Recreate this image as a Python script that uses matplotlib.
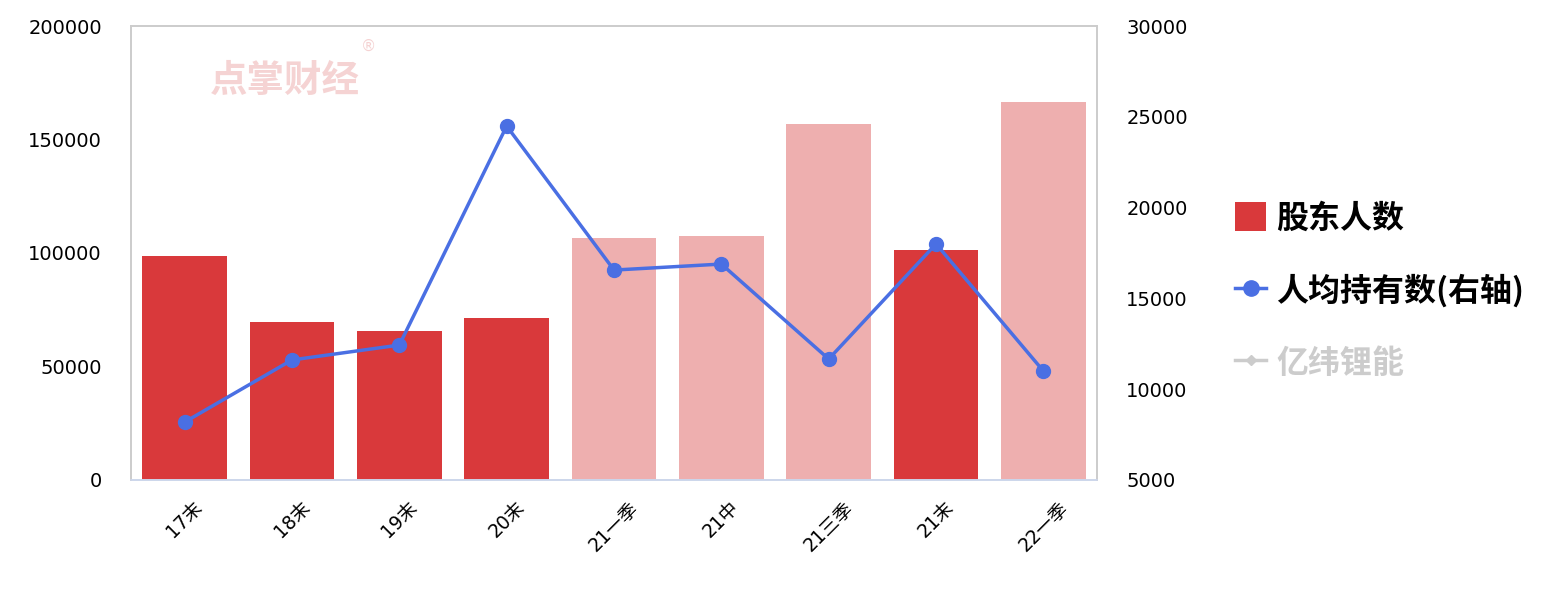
import numpy as np
import matplotlib.pyplot as plt
from matplotlib.lines import Line2D
from matplotlib.patches import Patch

plt.rcParams['font.family'] = ['Noto Sans CJK SC', 'DejaVu Sans']

categories = ['17末', '18末', '19末', '20末', '21一季', '21中', '21三季', '21末', '22一季']
holders = [98700, 69600, 65600, 71400, 106600, 107500, 156800, 101300, 166500]
per_holder = [8190, 11610, 12430, 24490, 16560, 16890, 11660, 18000, 11000]
# year-end reports drawn dark, interim reports light
is_year_end = [True, True, True, True, False, False, False, True, False]

dark_red = '#d9393b'
light_red = '#eeafaf'
blue = '#4a6fe3'
tick_font = ['DejaVu Sans', 'Noto Sans CJK SC']

fig = plt.figure(figsize=(15.48, 5.95), dpi=100)
ax = fig.add_axes([0.0846, 0.1933, 0.6241, 0.763])
ax2 = ax.twinx()

x = np.arange(len(categories))
colors = [dark_red if y else light_red for y in is_year_end]
ax.bar(x, holders, width=0.79, color=colors, zorder=2)
ax.set_xlim(-0.5, len(categories) - 0.5)
ax.set_ylim(0, 200000)
ax.set_yticks(np.arange(0, 200001, 50000))
ax.set_xticks(x)
ax.set_xticklabels(categories, rotation=45, ha='center')

ax2.plot(x, per_holder, color=blue, linewidth=2.5, marker='o', markersize=10, zorder=3)
ax2.set_ylim(5000, 30000)
ax2.set_yticks(np.arange(5000, 30001, 5000))

for a in (ax, ax2):
    a.tick_params(length=0, labelsize=14, colors='black', pad=21)
    for s in a.spines.values():
        s.set_color('#cccccc')
        s.set_linewidth(1.2)
    for lbl in a.get_yticklabels() + a.get_xticklabels():
        lbl.set_family(tick_font)
ax.spines['bottom'].set_color('#ccd6eb')
ax2.spines['bottom'].set_color('#ccd6eb')
ax.tick_params(axis='x', labelsize=13.5, pad=13)

# watermark
ax.text(0.082, 0.88, '点掌财经', transform=ax.transAxes, fontsize=27, fontweight='bold',
        color='#f5d3d3', ha='left', va='center', zorder=1)
ax.text(0.238, 0.955, '®', transform=ax.transAxes, fontsize=11, family='DejaVu Sans',
        color='#f5d3d3', ha='left', va='center', zorder=1)

handles = [
    Patch(facecolor=dark_red),
    Line2D([], [], color=blue, linewidth=2.5, marker='o', markersize=11),
    Line2D([], [], color='#cccccc', linewidth=2.5, marker='D', markersize=5),
]
labels = ['股东人数', '人均持有数(右轴)', '亿纬锂能']
leg = fig.legend(handles, labels, loc='upper left', bbox_to_anchor=(0.7975, 0.66),
                 frameon=False, prop={'size': 23, 'weight': 'bold'},
                 labelspacing=1.24, handlelength=1.0, handleheight=1.0,
                 handletextpad=0.3, borderaxespad=0, borderpad=0)
leg.get_texts()[2].set_color('#cccccc')

fig.savefig('out.png', dpi=100)
